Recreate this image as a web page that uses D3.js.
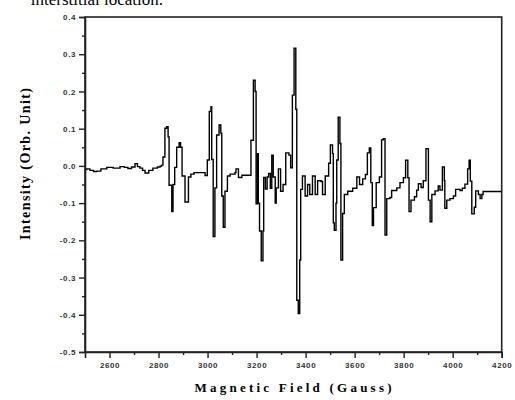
<!DOCTYPE html>
<html>
<head>
<meta charset="utf-8">
<script src="https://cdn.jsdelivr.net/npm/d3@7"></script>
<style>
  body { margin: 0; background: #fff; }
</style>
</head>
<body>
<div class="chart"></div>
<script>
// EPR spectrum
const field = [2500, 2507, 2520, 2535, 2548, 2565, 2589, 2615, 2643, 2660, 2675, 2690, 2704, 2714, 2724, 2735, 2745, 2760, 2777, 2795,
  2806, 2812, 2818, 2826, 2833, 2839, 2843, 2854, 2859, 2866, 2874, 2884, 2890, 2896, 2908, 2915, 2922, 2932, 2945, 2980,
  2990, 2999, 3007, 3014, 3017, 3023, 3030, 3037, 3047, 3054, 3058, 3064, 3071, 3081, 3092, 3112, 3116, 3126, 3140, 3168,
  3177, 3187, 3194, 3198, 3204, 3207, 3212, 3219, 3226, 3229, 3236, 3243, 3249, 3256, 3262, 3268, 3276, 3280, 3289, 3298,
  3308, 3319, 3332, 3339, 3346, 3353, 3360, 3364, 3370, 3376, 3380, 3387, 3398, 3408, 3417, 3428, 3439, 3449, 3463, 3469,
  3480, 3494, 3501, 3510, 3513, 3517, 3524, 3527, 3533, 3540, 3544, 3551, 3558, 3572, 3592, 3609, 3620, 3633, 3644, 3652,
  3660, 3666, 3672, 3677, 3688, 3701, 3710, 3717, 3724, 3731, 3744, 3751, 3772, 3785, 3799, 3808, 3817, 3822, 3830, 3844,
  3853, 3860, 3871, 3880, 3891, 3898, 3901, 3908, 3915, 3928, 3941, 3948, 3958, 3966, 3968, 3976, 3989, 4003, 4012, 4030,
  4039, 4050, 4061, 4067, 4072, 4078, 4088, 4094, 4105, 4112, 4119, 4124, 4200];
const intensity = [-0.010, -0.008, -0.012, -0.015, -0.014, -0.008, -0.004, -0.006, -0.002, -0.004, -0.007, -0.003, 0.006, -0.002, -0.006, -0.012, -0.019, -0.012, -0.006, -0.003,
  -0.001, 0.002, 0.024, 0.101, 0.105, 0.078, -0.052, -0.123, -0.050, -0.004, 0.050, 0.062, 0.050, -0.027, -0.097, -0.097, -0.030, -0.022, -0.018, -0.018,
  -0.026, 0.016, 0.146, 0.159, 0.017, -0.190, -0.059, 0.083, 0.110, 0.088, -0.081, -0.165, -0.068, -0.027, -0.022, -0.018, -0.008, -0.031, -0.025, -0.025,
  0.069, 0.230, 0.200, -0.102, 0.033, -0.100, -0.175, -0.255, -0.175, -0.031, -0.062, -0.030, -0.020, -0.060, 0.029, -0.030, -0.100, -0.059, -0.008, -0.068,
  -0.050, 0.035, 0.029, -0.005, 0.190, 0.316, 0.152, -0.361, -0.397, -0.253, -0.063, -0.027, -0.081, -0.050, -0.077, -0.027, -0.077, -0.040, -0.042, -0.077,
  -0.027, 0.007, 0.056, 0.033, -0.153, -0.173, -0.100, 0.016, 0.131, 0.060, -0.253, -0.128, -0.077, -0.068, -0.060, -0.030, -0.050, -0.035, -0.023, 0.035,
  0.048, -0.045, -0.160, -0.112, -0.045, -0.030, 0.070, 0.073, -0.186, -0.088, -0.085, -0.066, -0.059, -0.045, -0.032, 0.015, -0.032, -0.123, -0.092, -0.083,
  -0.065, -0.048, -0.058, -0.040, 0.046, 0.046, -0.092, -0.150, -0.077, -0.067, -0.054, -0.065, -0.003, -0.040, -0.114, -0.092, -0.088, -0.081, -0.063, -0.066,
  -0.060, -0.049, -0.008, 0.015, -0.041, -0.129, -0.111, -0.067, -0.077, -0.088, -0.077, -0.069, -0.069];

const xTicks = [2600, 2800, 3000, 3200, 3400, 3600, 3800, 4000, 4200];
const yTicks = [0.4, 0.3, 0.2, 0.1, 0.0, -0.1, -0.2, -0.3, -0.4, -0.5];

const width = 515, height = 400;
const margin = {top: 17, right: 13.3, bottom: 48, left: 85};

const x = d3.scaleLinear().domain([2500, 4200]).range([margin.left, width - margin.right]);
const y = d3.scaleLinear().domain([-0.5, 0.4]).range([height - margin.bottom, margin.top]);

const svg = d3.select(".chart").append("svg")
  .attr("width", width)
  .attr("height", height);

// bit of the page text above the figure
svg.append("text")
  .attr("x", 163)
  .attr("y", 5)
  .attr("text-anchor", "end")
  .style("font-family", "'Liberation Serif', 'Times New Roman', serif")
  .style("font-size", "17px")
  .text("interstitial location.");

const data = field.map((f, i) => ({f: f, v: intensity[i]}));

const line = d3.line()
  .x(d => x(d.f))
  .y(d => y(d.v))
  .curve(d3.curveStepAfter);

svg.append("path")
  .datum(data)
  .attr("fill", "none")
  .attr("stroke", "#000")
  .attr("stroke-width", 1.4)
  .attr("d", line);

// frame
svg.append("rect")
  .attr("x", x(2500))
  .attr("y", y(0.4))
  .attr("width", x(4200) - x(2500))
  .attr("height", y(-0.5) - y(0.4))
  .attr("fill", "none")
  .attr("stroke", "#222")
  .attr("stroke-width", 1.6);

const tickFont = sel => sel.selectAll("text")
  .style("font-family", "'Liberation Sans', Arial, sans-serif")
  .style("font-size", "8px")
  .style("font-weight", "bold")
  .style("letter-spacing", "0.6px")
  .attr("fill", "#333");

// x axis, major + minor ticks
const xAxis = svg.append("g")
  .attr("transform", `translate(0,${y(-0.5)})`)
  .call(d3.axisBottom(x).tickValues(xTicks).tickSize(6).tickPadding(4).tickFormat(d3.format("d")));
xAxis.select(".domain").attr("stroke-width", 1.6).attr("stroke", "#222");
xAxis.selectAll(".tick line").attr("stroke-width", 1.4).attr("stroke", "#222");
xAxis.call(tickFont);

svg.append("g")
  .attr("transform", `translate(0,${y(-0.5)})`)
  .call(d3.axisBottom(x).tickValues(d3.range(2700, 4200, 200)).tickSize(3).tickFormat(""))
  .call(g => g.select(".domain").remove())
  .selectAll(".tick line").attr("stroke-width", 1.4).attr("stroke", "#222");

// y axis
const yAxis = svg.append("g")
  .attr("transform", `translate(${x(2500)},0)`)
  .call(d3.axisLeft(y).tickValues(yTicks).tickSize(6).tickPadding(3).tickFormat(d3.format(".1f")));
yAxis.select(".domain").attr("stroke-width", 1.6).attr("stroke", "#222");
yAxis.selectAll(".tick line").attr("stroke-width", 1.4).attr("stroke", "#222");
yAxis.call(tickFont);
yAxis.selectAll("text").text(d => d3.format(".1f")(d).replace("−", "-"));

svg.append("g")
  .attr("transform", `translate(${x(2500)},0)`)
  .call(d3.axisLeft(y).tickValues(d3.range(-0.45, 0.4, 0.1)).tickSize(3).tickFormat(""))
  .call(g => g.select(".domain").remove())
  .selectAll(".tick line").attr("stroke-width", 1.4).attr("stroke", "#222");

// axis titles
svg.append("text")
  .attr("x", 293)
  .attr("y", 392)
  .attr("text-anchor", "middle")
  .attr("textLength", 197)
  .attr("lengthAdjust", "spacing")
  .style("font-family", "'Liberation Serif', 'Times New Roman', serif")
  .style("font-size", "13px")
  .style("font-weight", "bold")
  .text("Magnetic Field (Gauss)");

svg.append("text")
  .attr("transform", "translate(30,164) rotate(-90)")
  .attr("text-anchor", "middle")
  .attr("textLength", 152)
  .attr("lengthAdjust", "spacing")
  .style("font-family", "'Liberation Serif', 'Times New Roman', serif")
  .style("font-size", "14px")
  .style("font-weight", "bold")
  .text("Intensity (Orb. Unit)");
</script>
</body>
</html>
